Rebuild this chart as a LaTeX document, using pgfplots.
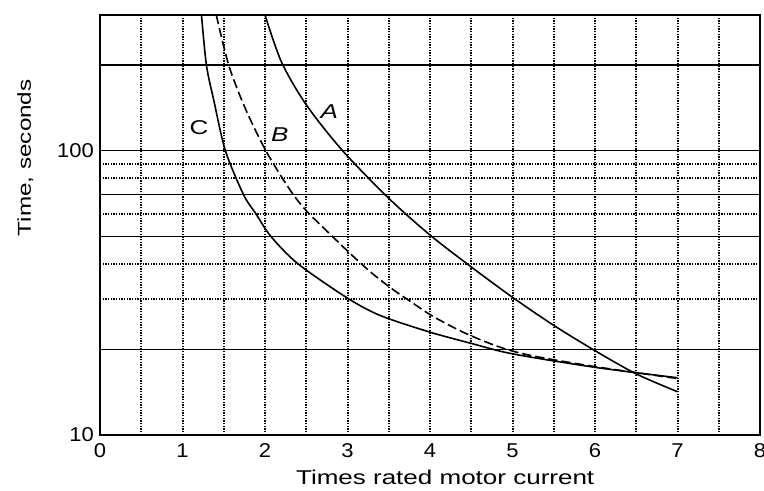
\documentclass[border=0pt]{standalone}
\usepackage{pgfplots}
\pgfplotsset{compat=1.18}
\usepackage{fontspec}
\setmainfont{Liberation Sans}[FakeStretch=1.1]
\newfontfamily\labelfont{Liberation Sans}[FakeStretch=1.3]

\begin{document}
\begin{tikzpicture}
\begin{axis}[
  width=495pt, height=315pt, scale only axis,
  xmin=0, xmax=8, ymin=10, ymax=300, ymode=log,
  clip mode=individual,
  xtick={0,...,8}, minor xtick={0.5,1.5,...,7.5},
  ytick={10,100}, yticklabels={10,100},
  minor ytick={30,40,60,80,90},
  extra y ticks={20,50,70,200}, extra y tick labels={},
  extra y tick style={grid=major, major grid style={black, line width=1.1pt}},
  extra x ticks={5.5,6,6.5,7}, extra x tick labels={},
  extra x tick style={grid=major, major grid style={black, line width=1.1pt}},
  grid=both,
  major x grid style={black, line width=1.5pt, dash pattern=on 1.1pt off 0.9pt},
  minor x grid style={black, line width=1.5pt, dash pattern=on 1.1pt off 0.9pt},
  major y grid style={black, line width=1.1pt},
  minor y grid style={black, line width=1.5pt, dash pattern=on 1.1pt off 0.9pt},
  axis line style={black, line width=1.5pt},
  major tick length=0pt, minor tick length=0pt,
  /pgf/number format/assume math mode=true,
  ticklabel style={font=\fontsize{15}{17}\selectfont},
  xticklabel style={yshift=-3pt},
  yticklabel style={xshift=-1pt},
  log ticks with fixed point,
  xlabel={Times rated motor current},
  xlabel style={font=\labelfont\fontsize{15}{17}\selectfont, at={(axis description cs:0.523,0)}, anchor=center, yshift=-32pt},
]
% curve A
\addplot[black, line width=1.2pt, smooth] coordinates {
  (2.0,300) (2.2,205) (2.5,145) (2.94,100) (3.5,68) (4.0,50.5)
  (4.5,39) (5.0,30.5) (5.5,24.3) (6.0,19.8) (6.5,16.4) (7.0,14.2)
};
% curve B
\addplot[black, line width=1.2pt, dash pattern=on 7pt off 3pt, smooth] coordinates {
  (1.41,300) (1.56,200) (1.76,141) (2.01,100) (2.3,73) (2.5,61.5)
  (2.8,50.5) (3.05,43) (3.3,37) (3.55,32.5) (3.8,29) (4.03,26.2)
  (4.4,23) (4.8,20.6) (5.2,19.1) (6.0,17.4) (7.0,15.8)
};
% curve C
\addplot[black, line width=1.2pt, smooth] coordinates {
  (1.23,300) (1.29,200) (1.38,150) (1.52,100) (1.74,70) (1.89,60)
  (2.07,50) (2.4,40) (3.0,30.3) (3.4,26.3) (4.0,23) (4.5,21)
  (5.0,19.3) (6.0,17.3) (7.0,15.9)
};
\node[font=\labelfont\fontsize{15}{17}\selectfont] at (axis cs:1.2,121) {C};
\node[font=\labelfont\itshape\fontsize{15}{17}\selectfont] at (axis cs:2.18,114) {B};
\node[font=\labelfont\itshape\fontsize{15}{17}\selectfont] at (axis cs:2.78,137) {A};
\node[rotate=90, font=\labelfont\fontsize{14}{16}\selectfont] at ([xshift=-56pt]rel axis cs:0,0.66) {Time, seconds};
\coordinate (bl) at (rel axis cs:0,0);
\coordinate (tr) at (rel axis cs:1,1);
\end{axis}
\pgfresetboundingbox
\path ([shift={(-75pt,-41.25pt)}]bl) rectangle ([shift={(3pt,11.25pt)}]tr);
\end{tikzpicture}
\end{document}
